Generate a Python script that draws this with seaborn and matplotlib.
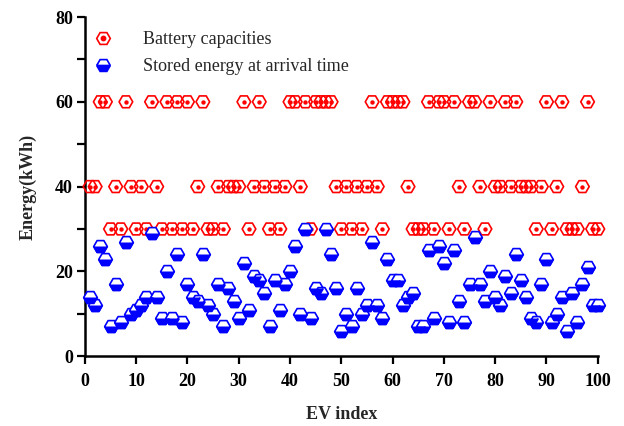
import matplotlib
matplotlib.use("Agg")
import matplotlib.pyplot as plt
import seaborn as sns
import pandas as pd
from matplotlib.markers import MarkerStyle
from matplotlib.lines import Line2D
from matplotlib.ticker import MultipleLocator

# EV indices grouped by battery capacity (kWh)
cap60_idx = [3, 4, 8, 13, 16, 18, 20, 23, 31, 34, 40, 41, 43, 45, 46, 47, 48, 56,
             59, 60, 61, 62, 67, 69, 70, 72, 75, 76, 79, 82, 84, 90, 93, 98]
cap40_idx = [1, 2, 6, 9, 11, 14, 22, 26, 28, 29, 30, 33, 35, 37, 39, 42, 49, 51,
             53, 55, 57, 63, 73, 77, 80, 81, 83, 85, 86, 87, 89, 92, 97]
cap30_idx = [5, 7, 10, 12, 15, 17, 19, 21, 24, 25, 27, 32, 36, 38, 44, 50, 52, 54,
             58, 64, 65, 66, 68, 71, 74, 78, 88, 91, 94, 95, 96, 99, 100]

# Stored energy at arrival time (kWh), EV 1..100
stored = [14, 12, 26, 23, 7, 17, 8, 27, 10, 11,
          12, 14, 29, 14, 9, 20, 9, 24, 8, 17,
          14, 13, 24, 12, 10, 17, 7, 16, 13, 9,
          22, 11, 19, 18, 15, 7, 18, 11, 17, 20,
          26, 10, 30, 9, 16, 15, 30, 24, 16, 6,
          10, 7, 16, 10, 12, 27, 12, 9, 23, 18,
          18, 12, 14, 15, 7, 7, 25, 9, 26, 22,
          8, 25, 13, 8, 17, 28, 17, 13, 20, 14,
          12, 19, 15, 24, 18, 14, 9, 8, 17, 23,
          8, 10, 14, 6, 15, 8, 17, 21, 12, 12]

ev_index = list(range(1, 101))
capacity = [60 if i in cap60_idx else 40 if i in cap40_idx else 30 for i in ev_index]
df = pd.DataFrame({"EV": ev_index, "capacity": capacity, "stored": stored})

sns.set_style("ticks")
plt.rcParams["font.family"] = ["Liberation Serif", "DejaVu Serif"]

RED = "#ff0000"
BLUE = "#0000ff"
MS = 9.8  # marker size in points

fig = plt.figure(figsize=(6.24, 4.26), dpi=100)
ax = fig.add_axes([0.136, 0.164, 0.822, 0.796])

# Battery capacities: open hexagon with a dot
sns.scatterplot(data=df, x="EV", y="capacity", marker="H", s=MS ** 2,
                color=RED, facecolor="none", edgecolor=RED, linewidth=1.2,
                ax=ax, clip_on=False, zorder=3)
sns.scatterplot(data=df, x="EV", y="capacity", marker="o", s=10,
                color=RED, linewidth=0, ax=ax, clip_on=False, zorder=3)

# Stored energy: half-filled hexagon
sns.scatterplot(data=df, x="EV", y="stored", marker="H", s=MS ** 2,
                color=BLUE, facecolor="white", edgecolor=BLUE, linewidth=1.2,
                ax=ax, clip_on=False, zorder=4)
sns.scatterplot(data=df, x="EV", y="stored", marker=MarkerStyle("H", fillstyle="bottom"),
                s=MS ** 2, color=BLUE, edgecolor=BLUE, linewidth=1.2,
                ax=ax, clip_on=False, zorder=4)

ax.set_xlim(0, 100)
ax.set_ylim(0, 80)
ax.xaxis.set_major_locator(MultipleLocator(10))
ax.yaxis.set_major_locator(MultipleLocator(20))
ax.yaxis.set_minor_locator(MultipleLocator(10))

for side in ["top", "right"]:
    ax.spines[side].set_visible(False)
for side in ["left", "bottom"]:
    ax.spines[side].set_linewidth(1.8)
    ax.spines[side].set_color("black")

ax.tick_params(axis="both", which="major", length=5.5, width=1.6, labelsize=13,
               color="black", labelcolor="black")
ax.tick_params(axis="x", which="major", pad=7)
ax.tick_params(axis="y", which="major", pad=3)
ax.tick_params(axis="y", which="minor", length=5.5, width=1.6, color="black")
for lbl in ax.get_xticklabels() + ax.get_yticklabels():
    lbl.set_fontweight("bold")

ax.set_xlabel("EV index", fontsize=13, fontweight="bold", labelpad=11)
ax.set_ylabel("Energy(kWh)", fontsize=13, fontweight="bold", labelpad=13)

h_cap = (Line2D([], [], marker="H", ls="", mfc="none", mec=RED, mew=1.2, ms=MS),
         Line2D([], [], marker="o", ls="", color=RED, ms=3.2))
h_sto = Line2D([], [], marker="H", ls="", fillstyle="bottom", mfc=BLUE,
               markerfacecoloralt="white", mec=BLUE, mew=1.2, ms=MS)
ax.legend([h_cap, h_sto], ["Battery capacities", "Stored energy at arrival time"],
          loc="upper left", bbox_to_anchor=(94 / 624, 1 - 31 / 426),
          bbox_transform=fig.transFigure, frameon=False, fontsize=13,
          handlelength=1.0, handletextpad=1.7, labelspacing=0.55,
          borderpad=0, borderaxespad=0)

fig.savefig("out.png", dpi=100)
